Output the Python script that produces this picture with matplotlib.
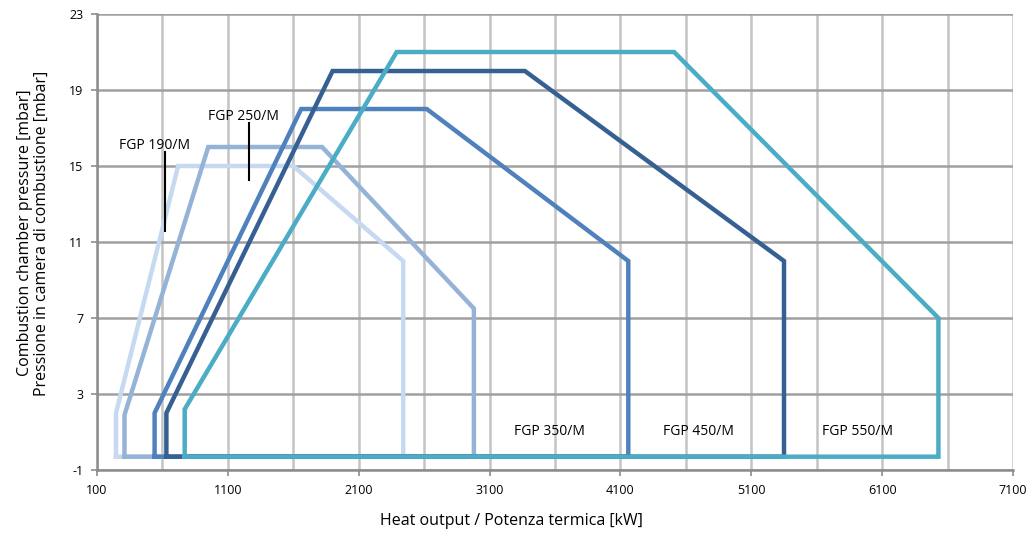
import numpy as np
import matplotlib
matplotlib.use('Agg')
import matplotlib.pyplot as plt

plt.rcParams['font.family'] = ['Open Sans', 'DejaVu Sans']
plt.rcParams['axes.unicode_minus'] = False

# working field of each burner: heat output [kW] vs chamber pressure [mbar]
fgp190_x = [245, 245, 720, 1600, 2440, 2440, 245]
fgp190_y = [-0.3, 2.0, 15, 15, 10, -0.3, -0.3]

fgp250_x = [310, 310, 950, 1820, 2980, 2980, 310]
fgp250_y = [-0.3, 1.9, 16, 16, 7.5, -0.3, -0.3]

fgp350_x = [540, 540, 1660, 2620, 4160, 4160, 540]
fgp350_y = [-0.3, 2.0, 18, 18, 10, -0.3, -0.3]

fgp450_x = [630, 630, 1900, 3370, 5350, 5350, 630]
fgp450_y = [-0.3, 2.0, 20, 20, 10, -0.3, -0.3]

fgp550_x = [770, 770, 2390, 4510, 6530, 6530, 770]
fgp550_y = [-0.3, 2.2, 21, 21, 7, -0.3, -0.3]

curves = [
    (fgp190_x, fgp190_y, '#c6d9f1'),
    (fgp250_x, fgp250_y, '#95b3d7'),
    (fgp350_x, fgp350_y, '#4f81bd'),
    (fgp450_x, fgp450_y, '#376092'),
    (fgp550_x, fgp550_y, '#4bacc6'),
]

fig = plt.figure(figsize=(10.3, 5.35), dpi=100)
ax = fig.add_axes([0.0942, 0.1215, 0.8893, 0.8523])

for x, y, c in curves:
    ax.plot(x, y, color=c, lw=3.2, solid_joinstyle='miter', zorder=3)

ax.set_xlim(100, 7100)
ax.set_ylim(-1, 23)
ax.set_xticks(np.arange(100, 7101, 1000))
ax.set_xticks(np.arange(600, 7100, 1000), minor=True)
ax.set_yticks(np.arange(-1, 24, 4))

ax.grid(axis='x', which='both', color='#c4c4c4', lw=1.8, zorder=1)
ax.grid(axis='y', which='major', color='#a0a0a0', lw=1.8, zorder=1)

for s in ['top', 'right']:
    ax.spines[s].set_visible(False)
for s in ['left', 'bottom']:
    ax.spines[s].set_color('#8c8c8c')
    ax.spines[s].set_linewidth(1.8)

ax.tick_params(axis='both', which='major', length=4, width=1.2, color='#8c8c8c',
               labelsize=9, pad=6)
ax.tick_params(axis='x', which='minor', length=0)

ax.set_xlabel('Heat output / Potenza termica [kW]', fontsize=11.5)
ax.xaxis.set_label_coords(0.452, -0.095)
ax.set_ylabel('Combustion chamber pressure [mbar]\nPressione in camera di combustione [mbar]',
              fontsize=11.5, linespacing=1.05)
ax.yaxis.set_label_coords(-0.052, 0.52)

# model labels
ax.text(543, 16.1, 'FGP 190/M', fontsize=10, ha='center', va='center')
ax.plot([620, 620], [15.75, 11.6], color='black', lw=1.5, zorder=4)
ax.text(1220, 17.6, 'FGP 250/M', fontsize=10, ha='center', va='center')
ax.plot([1262, 1262], [17.25, 14.25], color='black', lw=1.5, zorder=4)
ax.text(3558, 1.0, 'FGP 350/M', fontsize=10, ha='center', va='center')
ax.text(4693, 1.0, 'FGP 450/M', fontsize=10, ha='center', va='center')
ax.text(5915, 1.0, 'FGP 550/M', fontsize=10, ha='center', va='center')

fig.savefig('out.png', dpi=100)
